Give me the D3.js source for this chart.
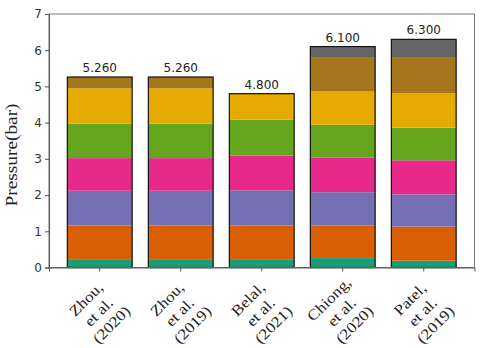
<!DOCTYPE html>
<html>
<head>
<meta charset="utf-8">
<script src="https://cdn.jsdelivr.net/npm/d3@7"></script>
<style>
  html, body { margin: 0; padding: 0; background: #fff; }
  svg { display: block; }
</style>
</head>
<body>
<svg id="chart" width="480" height="348"></svg>
<script>
// ---- data ----
const categories = ["Zhou, et al. (2020)", "Zhou, et al. (2019)", "Belal, et al. (2021)", "Chiong, et al. (2020)", "Patel, et al. (2019)"];
const categoryLines = [
  ["Zhou,", "et al.", "(2020)"],
  ["Zhou,", "et al.", "(2019)"],
  ["Belal,", "et al.", "(2021)"],
  ["Chiong,", "et al.", "(2020)"],
  ["Patel,", "et al.", "(2019)"]
];
const layer1 = [0.21, 0.21, 0.21, 0.26, 0.19];
const layer2 = [0.95, 0.95, 0.95, 0.90, 0.94];
const layer3 = [0.96, 0.96, 0.97, 0.92, 0.89];
const layer4 = [0.90, 0.90, 0.96, 0.95, 0.94];
const layer5 = [0.95, 0.95, 0.99, 0.91, 0.90];
const layer6 = [0.98, 0.98, 0.72, 0.92, 0.95];
const layer7 = [0.31, 0.31, 0.00, 0.93, 0.98];
const layer8 = [0.00, 0.00, 0.00, 0.31, 0.51];
const layerColors = ["#1b9e77", "#d95f02", "#7570b3", "#e7298a", "#66a61e", "#e6ab02", "#a6761d", "#666666"];
const yTicks = [0, 1, 2, 3, 4, 5, 6, 7];
const yLabel = "Pressure(bar)";

// ---- layout ----
const svg = d3.select("#chart");
const mLeft = 49, mRight = 474.5, mTop = 14, mBottom = 267.5;

const layers = [layer1, layer2, layer3, layer4, layer5, layer6, layer7, layer8];
const rows = categories.map((c, i) => {
  const r = { cat: c };
  layers.forEach((l, k) => r["L" + k] = l[i]);
  return r;
});
const keys = layers.map((l, k) => "L" + k);
const stacked = d3.stack().keys(keys)(rows);
const totals = categories.map((c, i) => d3.sum(layers, l => l[i]));

const x = d3.scaleBand().domain(categories).range([mLeft, mRight]).paddingInner(0.2).paddingOuter(0.2265);
const y = d3.scaleLinear().domain([0, 7]).range([mBottom, mTop]);

// bars
const g = svg.append("g");
stacked.forEach((layer, k) => {
  g.selectAll(null).data(layer).enter().append("rect")
    .attr("x", d => x(d.data.cat))
    .attr("width", x.bandwidth())
    .attr("y", d => y(d[1]))
    .attr("height", d => Math.max(0, y(d[0]) - y(d[1])))
    .attr("fill", layerColors[k]);
});
// outlines
g.selectAll(null).data(categories).enter().append("rect")
  .attr("x", c => x(c))
  .attr("width", x.bandwidth())
  .attr("y", (c, i) => y(totals[i]))
  .attr("height", (c, i) => y(0) - y(totals[i]))
  .attr("fill", "none")
  .attr("stroke", "#111")
  .attr("stroke-width", 1.2);

// total labels
g.selectAll(null).data(categories).enter().append("text")
  .attr("x", c => x(c) + x.bandwidth() / 2)
  .attr("y", (c, i) => y(totals[i]) - 5)
  .attr("text-anchor", "middle")
  .attr("font-family", "DejaVu Sans")
  .attr("font-size", 12)
  .attr("fill", "#222")
  .text((c, i) => totals[i].toFixed(3));

// frame
svg.append("rect")
  .attr("x", mLeft).attr("y", mTop)
  .attr("width", mRight - mLeft).attr("height", mBottom - mTop)
  .attr("fill", "none").attr("stroke", "#777").attr("stroke-width", 1);

// y axis
const yAxis = svg.append("g")
  .attr("transform", `translate(${mLeft},0)`)
  .call(d3.axisLeft(y).tickValues(yTicks).tickFormat(d3.format("d")).tickSize(4).tickPadding(3));
yAxis.select(".domain").attr("stroke", "#555");
yAxis.selectAll(".tick line").attr("stroke", "#555");
yAxis.selectAll(".tick text").attr("font-family", "DejaVu Sans").attr("font-size", 12).attr("fill", "#333");

// x axis ticks
const xAxis = svg.append("g")
  .attr("transform", `translate(0,${mBottom})`)
  .call(d3.axisBottom(x).tickSize(4).tickFormat(""));
xAxis.select(".domain").attr("stroke", "#555");
xAxis.selectAll(".tick line").attr("stroke", "#555");

// x labels (rotated, multi-line)
const lab = svg.append("g").selectAll(null).data(categories).enter().append("g")
  .attr("transform", (c) => `translate(${x(c) + x.bandwidth() / 2 - 1},312) rotate(-45) scale(1.15,1)`);
lab.each(function (c, i) {
  const t = d3.select(this);
  categoryLines[i].forEach((line, j) => {
    t.append("text")
      .attr("x", 0)
      .attr("y", (j - 1) * 18 + 5)
      .attr("text-anchor", "middle")
      .attr("font-family", "Liberation Serif")
      .attr("font-size", 15)
      .attr("fill", "#222")
      .text(line);
  });
});

// y label
svg.append("text")
  .attr("transform", "translate(17,155) rotate(-90)")
  .attr("text-anchor", "middle")
  .attr("font-family", "Liberation Serif")
  .attr("font-size", 16)
  .attr("fill", "#222")
  .attr("textLength", 103)
  .attr("lengthAdjust", "spacingAndGlyphs")
  .text(yLabel);
</script>
</body>
</html>
